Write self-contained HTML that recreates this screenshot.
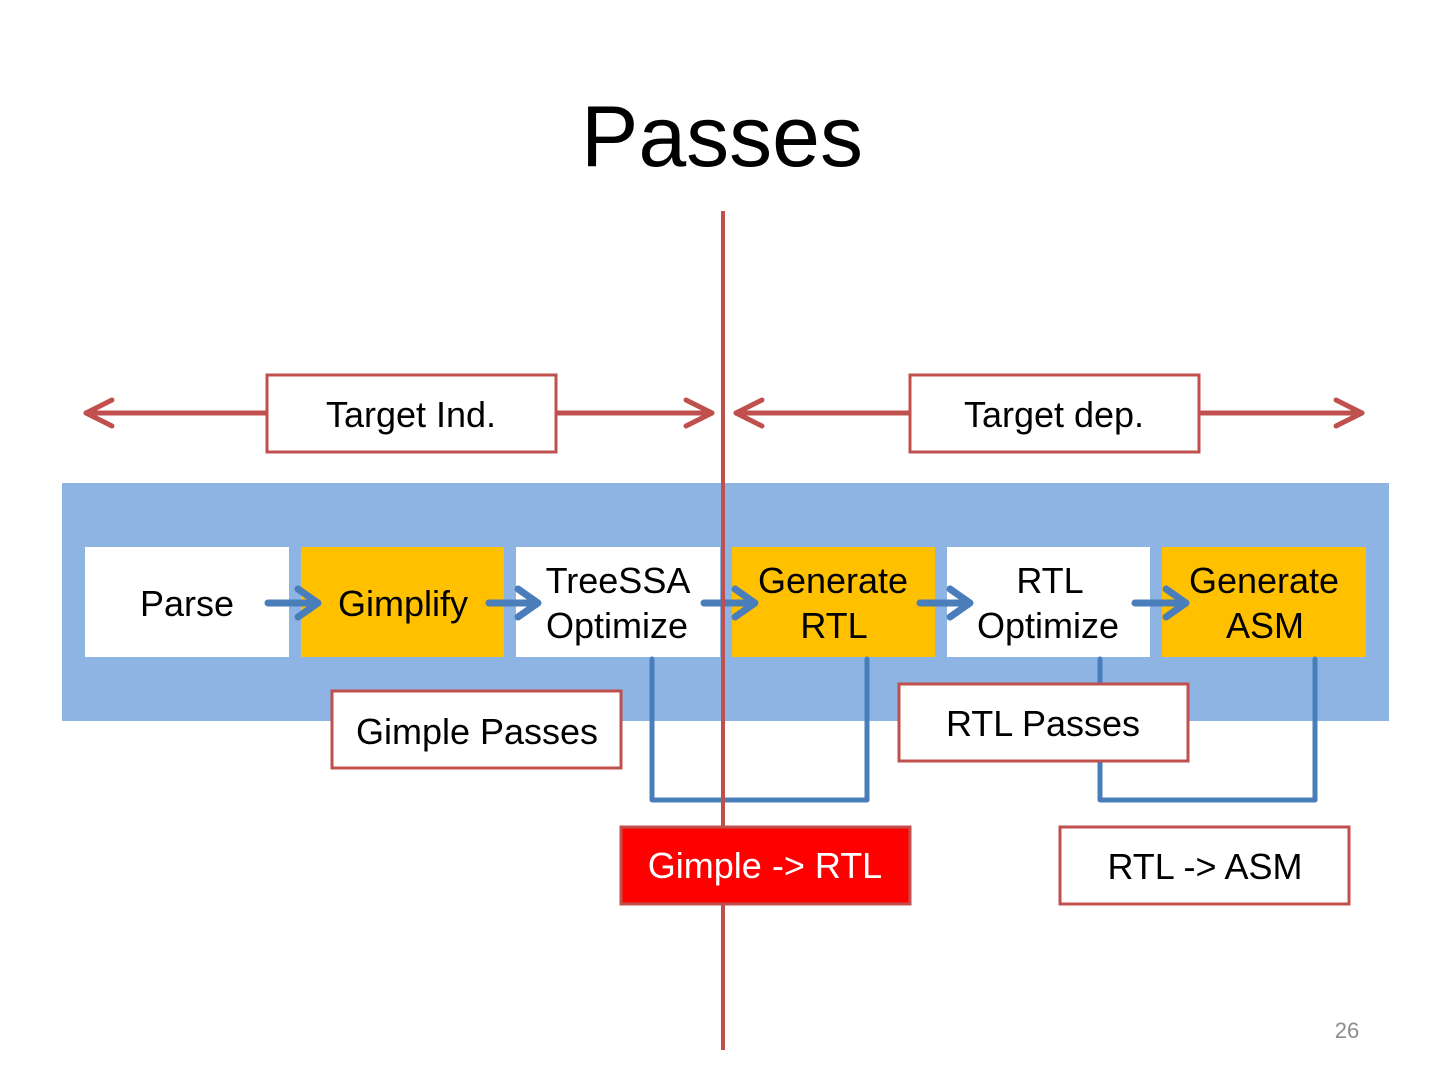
<!DOCTYPE html>
<html><head><meta charset="utf-8"><style>
html,body{margin:0;padding:0;background:#fff;}
svg{display:block;}
text{font-family:"Liberation Sans",Arial,sans-serif;}
</style></head><body>
<svg width="1440" height="1080" viewBox="0 0 1440 1080" xmlns="http://www.w3.org/2000/svg">
<rect width="1440" height="1080" fill="#fff"/>
<text x="722" y="166" font-size="86" text-anchor="middle" fill="#000">Passes</text>

<g stroke="#C0504D" stroke-width="5" fill="none" stroke-linecap="round" stroke-linejoin="round">
<line x1="86" y1="413" x2="266" y2="413"/>
<polyline points="112,400 86,413 112,426"/>
<line x1="557" y1="413" x2="712" y2="413"/>
<polyline points="686,400 712,413 686,426"/>
<line x1="736" y1="413" x2="909" y2="413"/>
<polyline points="762,400 736,413 762,426"/>
<line x1="1200" y1="413" x2="1362" y2="413"/>
<polyline points="1336,400 1362,413 1336,426"/>
</g>
<rect x="267" y="375" width="289" height="77" fill="#fff" stroke="#C0504D" stroke-width="3"/>
<text x="411" y="427" font-size="36" text-anchor="middle">Target Ind.</text>
<rect x="910" y="375" width="289" height="77" fill="#fff" stroke="#C0504D" stroke-width="3"/>
<text x="1054" y="427" font-size="36" text-anchor="middle">Target dep.</text>

<rect x="62" y="483" width="1327" height="238" fill="#8EB4E3"/>
<rect x="85" y="547" width="204" height="110" fill="#fff"/>
<rect x="301" y="547" width="203" height="110" fill="#FFC000"/>
<rect x="516" y="547" width="204" height="110" fill="#fff"/>
<rect x="732" y="547" width="203" height="110" fill="#FFC000"/>
<rect x="947" y="547" width="203" height="110" fill="#fff"/>
<rect x="1162" y="547" width="204" height="110" fill="#FFC000"/>

<g font-size="36" text-anchor="middle" fill="#000">
<text x="187" y="616">Parse</text>
<text x="403" y="616">Gimplify</text>
<text x="618" y="593">TreeSSA</text>
<text x="617" y="638">Optimize</text>
<text x="833" y="593">Generate</text>
<text x="834" y="638">RTL</text>
<text x="1050" y="593">RTL</text>
<text x="1048" y="638">Optimize</text>
<text x="1264" y="593">Generate</text>
<text x="1265" y="638">ASM</text>
</g>

<g stroke="#4A7EBB" stroke-width="5" fill="none" stroke-linejoin="round" stroke-linecap="round">
<polyline points="652,659 652,800 867,800 867,659"/>
<polyline points="1100,659 1100,800 1315,800 1315,659"/>
</g>
<g stroke="#4A7EBB" stroke-width="7" fill="none" stroke-linejoin="round" stroke-linecap="round">
<line x1="268" y1="603" x2="316" y2="603"/>
<polyline points="298,589 318,603 298,617"/>
<line x1="489" y1="603" x2="536" y2="603"/>
<polyline points="518,589 538,603 518,617"/>
<line x1="704" y1="603" x2="753" y2="603"/>
<polyline points="735,589 755,603 735,617"/>
<line x1="920" y1="603" x2="968" y2="603"/>
<polyline points="950,589 970,603 950,617"/>
<line x1="1135" y1="603" x2="1184" y2="603"/>
<polyline points="1166,589 1186,603 1166,617"/>
</g>

<rect x="332" y="691" width="289" height="77" fill="#fff" stroke="#C0504D" stroke-width="3"/>
<text x="477" y="744" font-size="36" text-anchor="middle">Gimple Passes</text>
<rect x="899" y="684" width="289" height="77" fill="#fff" stroke="#C0504D" stroke-width="3"/>
<text x="1043" y="736" font-size="36" text-anchor="middle">RTL Passes</text>

<line x1="723" y1="211" x2="723" y2="1050" stroke="#C0504D" stroke-width="4"/>

<rect x="621" y="827" width="289" height="77" fill="#FF0000" stroke="#C0504D" stroke-width="3"/>
<text x="765" y="878" font-size="36" text-anchor="middle" fill="#fff">Gimple -&gt; RTL</text>
<rect x="1060" y="827" width="289" height="77" fill="#fff" stroke="#C0504D" stroke-width="3"/>
<text x="1205" y="879" font-size="36" text-anchor="middle">RTL -&gt; ASM</text>

<text x="1347" y="1038" font-size="22" text-anchor="middle" fill="#8c8c8c">26</text>
</svg>
</body></html>
